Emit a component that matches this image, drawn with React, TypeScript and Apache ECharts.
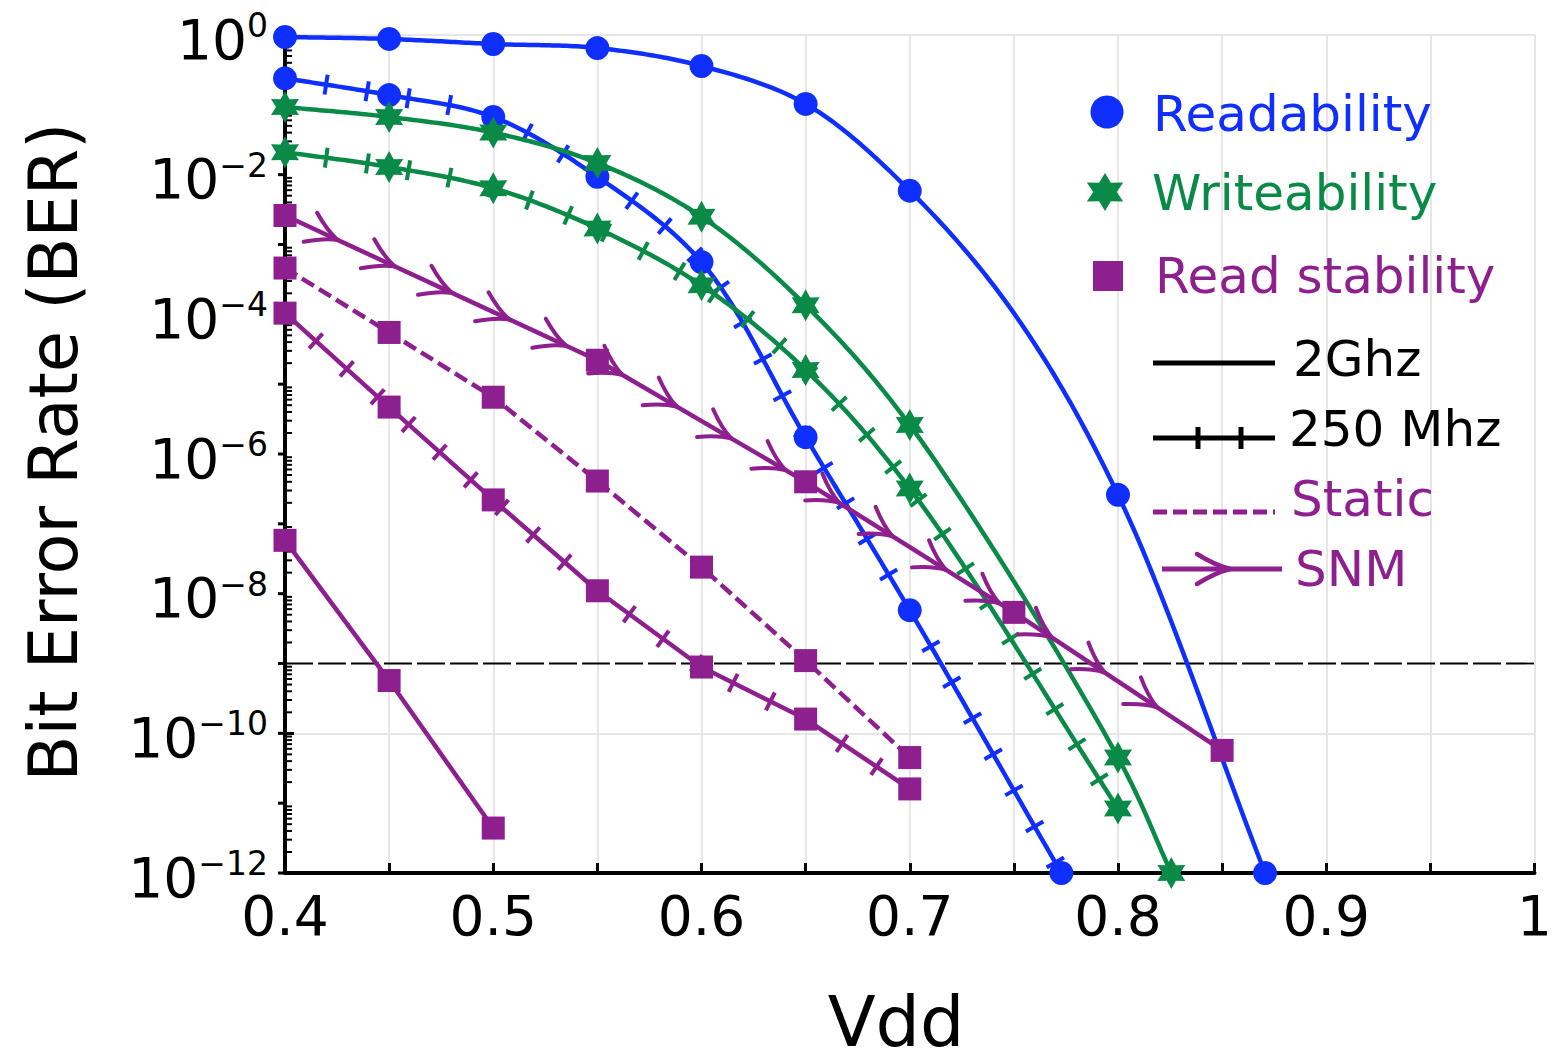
import React, { useEffect, useRef } from "react";
import * as echarts from "echarts";

const FONT = "DejaVu Sans";
const BLUE = "#0f2fff";
const GREEN = "#0a8a47";
const PURPLE = "#8e1f8e";

// ---------- axes ----------
const X_MIN = 0.4;
const X_MAX = 1;
const X_STEP = 0.05;
const Y_MIN = 1e-12;
const Y_MAX = 1;
const Y_LABEL_EXPONENTS = [0, -2, -4, -6, -8, -10, -12];
const Y_DECADES = [-12, -11, -10, -9, -8, -7, -6, -5, -4, -3, -2, -1];
const MINOR_MULTIPLIERS = [2, 3, 4, 5, 6, 7, 8, 9];
const BER_LIMIT = 1e-9;

// ---------- data: [Vdd, BER] (third element 0 = curve point without marker) ----------
const readability2GHz = [
  [0.4, 0.936], [0.45, 0.877], [0.5, 0.743], [0.55, 0.651], [0.6, 0.36],
  [0.65, 0.103], [0.7, 5.9e-3], [0.75, 1.04e-4, 0], [0.8, 2.6e-7], [0.8706, 1e-12],
];
const readability250MHz = [
  [0.4, 0.24], [0.45, 0.138], [0.5, 0.067], [0.55, 9.3e-3], [0.6, 5.6e-4],
  [0.65, 1.74e-6], [0.7, 5.8e-9], [0.7728, 1e-12],
];
const writeability2GHz = [
  [0.4, 0.093], [0.45, 0.067], [0.5, 0.04], [0.55, 0.0147], [0.6, 2.5e-3],
  [0.65, 1.35e-4], [0.7, 2.6e-6], [0.8, 4.5e-11], [0.8256, 1e-12],
];
const writeability250MHz = [
  [0.4, 0.021], [0.45, 0.0129], [0.5, 6.4e-3], [0.55, 1.7e-3], [0.6, 2.6e-4],
  [0.65, 1.6e-5], [0.7, 3.2e-7], [0.8, 8.4e-12],
];
const readStabilitySNM = [
  [0.4, 2.6e-3], [0.55, 2.2e-5], [0.65, 4.0e-7], [0.75, 5.4e-9], [0.85, 5.7e-11],
];
const readStabilityStaticDashed = [
  [0.4, 4.6e-4], [0.45, 5.5e-5], [0.5, 6.5e-6], [0.55, 4.1e-7], [0.6, 2.4e-8],
  [0.65, 1.1e-9], [0.7, 4.5e-11],
];
const readStability250MHz = [
  [0.4, 1.04e-4], [0.45, 4.7e-6], [0.5, 2.2e-7], [0.55, 1.1e-8], [0.6, 8.9e-10],
  [0.65, 1.6e-10], [0.7, 1.6e-11],
];
const readStability2GHz = [[0.4, 5.8e-8], [0.45, 5.7e-10], [0.5, 4.4e-12]];

// ---------- legend ----------
const LEGEND_MARKERS = ["Readability", "Writeability", "Read stability"];
const LEGEND_LINES = ["2Ghz", "250 Mhz", "Static", "SNM"];

// ---------- helpers ----------
function starUnit(): number[][] {
  const out: number[][] = [];
  for (let k = 0; k < 12; k++) {
    const a = ((-90 + 30 * k) * Math.PI) / 180;
    const r = k % 2 === 0 ? 1 : 0.56;
    out.push([r * Math.cos(a), r * Math.sin(a)]);
  }
  return out;
}
const STAR_PATH =
  "path://" +
  starUnit()
    .map((p, i) => `${i ? "L" : "M"}${(p[0] * 50 + 50).toFixed(2)} ${(p[1] * 50 + 50).toFixed(2)}`)
    .join(" ") +
  " Z";

function catmullRom(pts: number[][], samples: number): number[][] {
  if (pts.length < 3) return pts;
  const out: number[][] = [pts[0]];
  const d = (a: number[], b: number[]) => Math.pow(Math.hypot(b[0] - a[0], b[1] - a[1]), 0.5) || 1e-6;
  for (let i = 0; i < pts.length - 1; i++) {
    const p1 = pts[i];
    const p2 = pts[i + 1];
    const p0 = pts[i - 1] || [2 * p1[0] - p2[0], 2 * p1[1] - p2[1]];
    const p3 = pts[i + 2] || [2 * p2[0] - p1[0], 2 * p2[1] - p1[1]];
    const t0 = 0;
    const t1 = t0 + d(p0, p1);
    const t2 = t1 + d(p1, p2);
    const t3 = t2 + d(p2, p3);
    for (let s = 1; s <= samples; s++) {
      const t = t1 + ((t2 - t1) * s) / samples;
      const res: number[] = [];
      for (let k = 0; k < 2; k++) {
        const A1 = ((t1 - t) / (t1 - t0)) * p0[k] + ((t - t0) / (t1 - t0)) * p1[k];
        const A2 = ((t2 - t) / (t2 - t1)) * p1[k] + ((t - t1) / (t2 - t1)) * p2[k];
        const A3 = ((t3 - t) / (t3 - t2)) * p2[k] + ((t - t2) / (t3 - t2)) * p3[k];
        const B1 = ((t2 - t) / (t2 - t0)) * A1 + ((t - t0) / (t2 - t0)) * A2;
        const B2 = ((t3 - t) / (t3 - t1)) * A2 + ((t - t1) / (t3 - t1)) * A3;
        res.push(((t2 - t) / (t2 - t1)) * B1 + ((t - t1) / (t2 - t1)) * B2);
      }
      out.push(res);
    }
  }
  return out;
}

function along(path: number[][], first: number, step: number, endMargin: number) {
  const cum = [0];
  for (let i = 1; i < path.length; i++) {
    cum.push(cum[i - 1] + Math.hypot(path[i][0] - path[i - 1][0], path[i][1] - path[i - 1][1]));
  }
  const L = cum[cum.length - 1];
  const res: { x: number; y: number; ux: number; uy: number }[] = [];
  let j = 1;
  for (let s = first; s <= L - endMargin; s += step) {
    while (j < cum.length - 1 && cum[j] < s) j++;
    const a = path[j - 1];
    const b = path[j];
    const seg = cum[j] - cum[j - 1] || 1e-6;
    const t = (s - cum[j - 1]) / seg;
    const dx = b[0] - a[0];
    const dy = b[1] - a[1];
    const len = Math.hypot(dx, dy) || 1e-6;
    res.push({ x: a[0] + dx * t, y: a[1] + dy * t, ux: dx / len, uy: dy / len });
  }
  return res;
}

function arrowEls(x: number, y: number, ux: number, uy: number, L: number, W: number, color: string, lw: number, z?: number) {
  const nx = -uy;
  const ny = ux;
  const bx = x - ux * L;
  const by = y - uy * L;
  const cx = x - ux * L * 0.45;
  const cy = y - uy * L * 0.45;
  return [1, -1].map((sg) => {
    const el: any = {
      type: "bezierCurve",
      shape: {
        x1: bx + nx * W * sg,
        y1: by + ny * W * sg,
        x2: x,
        y2: y,
        cpx1: cx + nx * W * 0.25 * sg,
        cpy1: cy + ny * W * 0.25 * sg,
      },
      style: { stroke: color, lineWidth: lw, fill: "none", lineCap: "round" },
    };
    if (z != null) el.z = z;
    return el;
  });
}

type Curve = {
  name: string;
  pts: number[][];
  color: string;
  smooth: boolean;
  deco: "none" | "ticks" | "arrows";
  dash?: number[];
  symbol: string;
  symbolSize: number | number[];
};

const CIRCLE_SIZE = 24;
const SQUARE_SIZE = 23;
const STAR_SIZE = [28, 32];

const CURVES: Curve[] = [
  { name: "Readability 2GHz", pts: readability2GHz, color: BLUE, smooth: true, deco: "none", symbol: "circle", symbolSize: CIRCLE_SIZE },
  { name: "Readability 250MHz", pts: readability250MHz, color: BLUE, smooth: true, deco: "ticks", symbol: "circle", symbolSize: CIRCLE_SIZE },
  { name: "Writeability 2GHz", pts: writeability2GHz, color: GREEN, smooth: true, deco: "none", symbol: STAR_PATH, symbolSize: STAR_SIZE },
  { name: "Writeability 250MHz", pts: writeability250MHz, color: GREEN, smooth: true, deco: "ticks", symbol: STAR_PATH, symbolSize: STAR_SIZE },
  { name: "Read stability SNM", pts: readStabilitySNM, color: PURPLE, smooth: false, deco: "arrows", symbol: "rect", symbolSize: SQUARE_SIZE },
  { name: "Read stability Static", pts: readStabilityStaticDashed, color: PURPLE, smooth: false, deco: "none", dash: [14, 6], symbol: "rect", symbolSize: SQUARE_SIZE },
  { name: "Read stability 250MHz", pts: readStability250MHz, color: PURPLE, smooth: false, deco: "ticks", symbol: "rect", symbolSize: SQUARE_SIZE },
  { name: "Read stability 2GHz", pts: readStability2GHz, color: PURPLE, smooth: false, deco: "none", symbol: "rect", symbolSize: SQUARE_SIZE },
];

const TICK_STEP = 41.6;
const ARROW_FIRST = 58;
const ARROW_STEP = 63;
const LINE_W = 4.5;

function curveRenderer(c: Curve) {
  return (params: any, api: any) => {
    if (params.dataIndex !== 0) return null;
    const px = c.pts.map((p) => api.coord([p[0], p[1]]));
    const path = c.smooth ? catmullRom(px, 30) : px;
    const lineStyle: any = { stroke: c.color, lineWidth: LINE_W, fill: "none", lineJoin: "round" };
    if (c.dash) lineStyle.lineDash = c.dash;
    const children: any[] = [{ type: "polyline", shape: { points: path }, style: lineStyle }];
    if (c.deco === "ticks") {
      for (const t of along(path, TICK_STEP, TICK_STEP, 4)) {
        const nx = -t.uy;
        const ny = t.ux;
        children.push({
          type: "line",
          shape: { x1: t.x - nx * 10, y1: t.y - ny * 10, x2: t.x + nx * 10, y2: t.y + ny * 10 },
          style: { stroke: c.color, lineWidth: 4 },
        });
      }
    } else if (c.deco === "arrows") {
      for (const t of along(path, ARROW_FIRST, ARROW_STEP, 20)) {
        children.push(...arrowEls(t.x, t.y, t.ux, t.uy, 30, 16, c.color, 4));
      }
    }
    return { type: "group", children };
  };
}

function minorTickRenderer(params: any, api: any) {
  const e = Y_DECADES[params.dataIndex];
  const children: any[] = [];
  for (const m of MINOR_MULTIPLIERS) {
    const p = api.coord([X_MIN, m * Math.pow(10, e)]);
    children.push({
      type: "line",
      shape: { x1: p[0], y1: p[1], x2: p[0] + 7, y2: p[1] },
      style: { stroke: "#000", lineWidth: 2 },
    });
  }
  const majors = e === -1 ? [e, 0] : [e];
  for (const k of majors) {
    const p = api.coord([X_MIN, Math.pow(10, k)]);
    children.push({
      type: "line",
      shape: { x1: p[0] - 7, y1: p[1], x2: p[0], y2: p[1] },
      style: { stroke: "#000", lineWidth: 3 },
    });
  }
  return { type: "group", children };
}

const Y_LABEL_RICH = {
  b: { fontSize: 55, fontFamily: FONT, fill: "#000", color: "#000", verticalAlign: "bottom" },
  s: { fontSize: 33, fontFamily: FONT, fill: "#000", color: "#000", verticalAlign: "bottom", padding: [0, 0, 25, 0] },
};

function yLabelRenderer(params: any, api: any) {
  const e = Y_LABEL_EXPONENTS[params.dataIndex];
  const p = api.coord([X_MIN, Math.pow(10, e)]);
  const sup = e === 0 ? "0" : "\u2212" + Math.abs(e);
  return {
    type: "text",
    x: p[0] - 17,
    y: p[1] + 3,
    style: {
      text: `{b|10}{s|${sup}}`,
      rich: Y_LABEL_RICH,
      fontFamily: FONT,
      fontSize: 55,
      fill: "#000",
      align: "right",
      verticalAlign: "middle",
      textAlign: "right",
      textVerticalAlign: "middle",
    },
  };
}

function buildOption() {
  const series: any[] = [];

  series.push({
    type: "line",
    name: "BER limit",
    data: [[X_MIN, BER_LIMIT], [X_MAX, BER_LIMIT]],
    symbol: "none",
    silent: true,
    z: 2,
    lineStyle: { color: "#000", width: 1.8, type: [28, 5] },
  });

  series.push({
    type: "custom",
    name: "minor ticks",
    coordinateSystem: "cartesian2d",
    data: Y_DECADES.map((e) => [X_MIN, Math.pow(10, e)]),
    renderItem: minorTickRenderer,
    silent: true,
    clip: false,
    z: 2,
  });

  series.push({
    type: "custom",
    name: "y labels",
    coordinateSystem: "cartesian2d",
    data: Y_LABEL_EXPONENTS.map((e) => [X_MIN, Math.pow(10, e)]),
    renderItem: yLabelRenderer,
    silent: true,
    clip: false,
    z: 2,
  });

  for (const c of CURVES) {
    series.push({
      type: "custom",
      name: c.name,
      coordinateSystem: "cartesian2d",
      data: c.pts.map((p) => [p[0], p[1]]),
      renderItem: curveRenderer(c),
      silent: true,
      z: 3,
    });
  }
  for (const c of CURVES) {
    series.push({
      type: "scatter",
      name: c.name + " markers",
      data: c.pts.filter((p) => p[2] !== 0).map((p) => [p[0], p[1]]),
      symbol: c.symbol,
      symbolSize: c.symbolSize,
      itemStyle: { color: c.color, opacity: 1 },
      clip: false,
      silent: true,
      z: 4,
    });
  }

  // legend graphics
  const star = starUnit();
  const Z = 100;
  const legendFont = { fontFamily: FONT, fontSize: 50 };
  const lt = (text: string, x: number, y: number, color: string) => ({
    type: "text",
    z: Z,
    x,
    y,
    style: { text, fill: color, ...legendFont, align: "left", verticalAlign: "middle", textAlign: "left", textVerticalAlign: "middle" },
  });
  const graphic: any[] = [
    { type: "circle", z: Z, shape: { cx: 1107, cy: 112, r: 16.5 }, style: { fill: BLUE } },
    {
      type: "polygon",
      z: Z,
      shape: { points: star.map((p) => [1105 + p[0] * 21, 192 + p[1] * 19]) },
      style: { fill: GREEN },
    },
    { type: "rect", z: Z, shape: { x: 1093, y: 261, width: 30, height: 30 }, style: { fill: PURPLE } },
    lt(LEGEND_MARKERS[0], 1153, 114, BLUE),
    lt(LEGEND_MARKERS[1], 1152, 193, GREEN),
    lt(LEGEND_MARKERS[2], 1155, 276, PURPLE),
    { type: "line", z: Z, shape: { x1: 1153, y1: 363, x2: 1275, y2: 363 }, style: { stroke: "#000", lineWidth: 5 } },
    { type: "line", z: Z, shape: { x1: 1153, y1: 438, x2: 1275, y2: 438 }, style: { stroke: "#000", lineWidth: 5 } },
    { type: "line", z: Z, shape: { x1: 1198, y1: 427, x2: 1198, y2: 449 }, style: { stroke: "#000", lineWidth: 5 } },
    { type: "line", z: Z, shape: { x1: 1241, y1: 427, x2: 1241, y2: 449 }, style: { stroke: "#000", lineWidth: 5 } },
    { type: "line", z: Z, shape: { x1: 1153, y1: 512, x2: 1275, y2: 512 }, style: { stroke: PURPLE, lineWidth: 5, lineDash: [14, 6] } },
    { type: "line", z: Z, shape: { x1: 1162, y1: 569, x2: 1282, y2: 569 }, style: { stroke: PURPLE, lineWidth: 5 } },
    ...arrowEls(1230, 569, 1, 0, 33, 15, PURPLE, 4.5, Z),
    lt(LEGEND_LINES[0], 1293, 359, "#000"),
    lt(LEGEND_LINES[1], 1289, 429, "#000"),
    lt(LEGEND_LINES[2], 1291, 499, PURPLE),
    lt(LEGEND_LINES[3], 1295, 569, PURPLE),
    {
      type: "text",
      z: Z,
      x: 896,
      y: 1022,
      style: { text: "Vdd", fill: "#000", fontFamily: FONT, fontSize: 70, align: "center", verticalAlign: "middle", textAlign: "center", textVerticalAlign: "middle" },
    },
    {
      type: "text",
      z: Z,
      x: 54,
      y: 452,
      rotation: Math.PI / 2,
      style: { text: "Bit Error Rate (BER)", fill: "#000", fontFamily: FONT, fontSize: 67, align: "center", verticalAlign: "middle", textAlign: "center", textVerticalAlign: "middle" },
    },
  ];

  return {
    animation: false,
    backgroundColor: "#fff",
    textStyle: { fontFamily: FONT },
    grid: { left: 285, right: 18, top: 35, bottom: 191, containLabel: false },
    xAxis: {
      type: "value",
      min: X_MIN,
      max: X_MAX,
      interval: X_STEP,
      axisLine: { show: true, lineStyle: { color: "#000", width: 4 } },
      axisTick: { show: true, inside: true, length: 10, lineStyle: { color: "#000", width: 3 } },
      splitLine: { show: true, lineStyle: { color: "#e6e6e6", width: 2 } },
      axisLabel: {
        color: "#000",
        fontSize: 55,
        fontFamily: FONT,
        margin: 15,
        formatter: (v: number) => {
          const r = Math.round(v * 100);
          if (r % 10 !== 0) return "";
          return String(r / 100);
        },
      },
    },
    yAxis: {
      type: "log",
      logBase: 10,
      min: Y_MIN,
      max: Y_MAX,
      splitNumber: 12,
      axisLine: { show: true, lineStyle: { color: "#000", width: 4 } },
      axisTick: { show: true, inside: true, length: 9, lineStyle: { color: "#000", width: 3 } },
      splitLine: { show: true, lineStyle: { color: "#e6e6e6", width: 2 } },
      axisLabel: { show: false },
    },
    graphic,
    series,
  };
}

export default function App() {
  const ref = useRef<HTMLDivElement>(null);
  useEffect(() => {
    if (!ref.current) return;
    const chart = echarts.init(ref.current, undefined, { renderer: "svg" });
    chart.setOption(buildOption() as any);
    return () => chart.dispose();
  }, []);
  return (
    <div
      ref={ref}
      style={{ position: "absolute", left: 0, top: 0, width: 1555, height: 1064, background: "#fff" }}
    />
  );
}
